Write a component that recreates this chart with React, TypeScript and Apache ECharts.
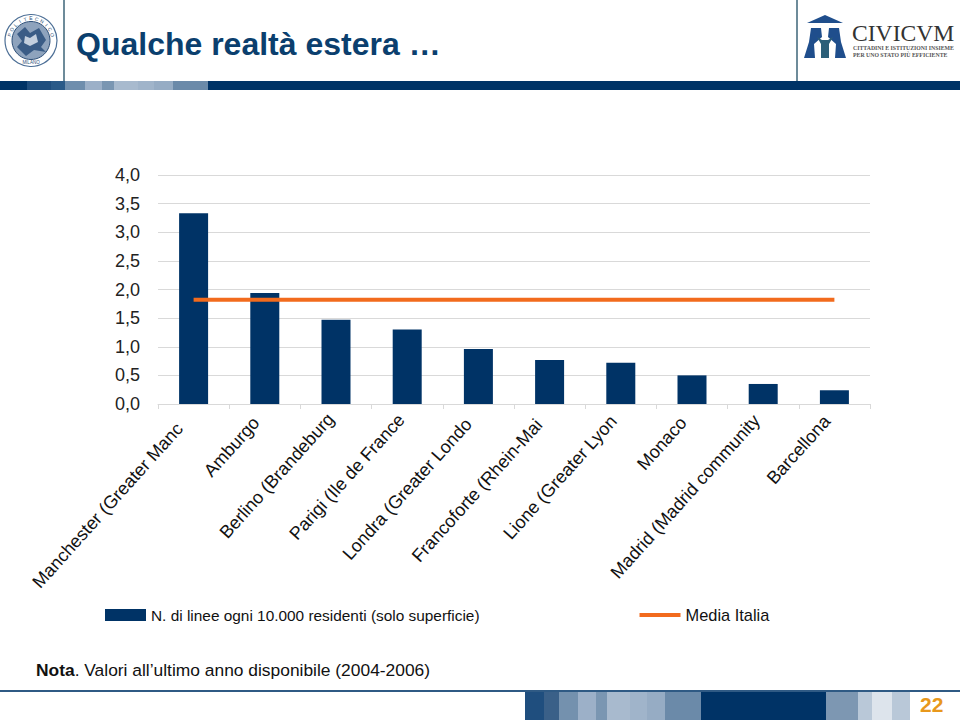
import React, { useEffect, useRef } from "react";
import * as echarts from "echarts";

const categories = [
  "Manchester (Greater Manc",
  "Amburgo",
  "Berlino (Brandeburg",
  "Parigi (Ile de France",
  "Londra (Greater Londo",
  "Francoforte (Rhein-Mai",
  "Lione (Greater Lyon",
  "Monaco",
  "Madrid (Madrid community",
  "Barcellona",
];
const lineePerResidenti = [3.33, 1.94, 1.47, 1.3, 0.96, 0.77, 0.72, 0.5, 0.35, 0.24];
const mediaItalia = [1.82, 1.82, 1.82, 1.82, 1.82, 1.82, 1.82, 1.82, 1.82, 1.82];
const labelEndPadding = [21, 13, 8, 9, 15, 16, 11, 13, 10, 11];
const labelLineHeight = [18, 1, 10, 10, 14, 11, 13, 3, 13, 6];
const seriesNames = ["N. di linee ogni 10.000 residenti (solo superficie)", "Media Italia"];
const topBand: [number, number, string][] = [
  [0, 27, "#003366"], [27, 51, "#1f4e7e"], [51, 65, "#2a5a88"], [65, 85, "#6f8ead"], [85, 102, "#9cb0c8"],
  [102, 114, "#7a96b2"], [114, 138, "#a8bace"], [138, 154, "#a0b4ca"], [154, 173, "#96acc4"], [173, 208, "#6b8aa9"], [208, 960, "#003366"],
];
const bottomBand: [number, number, string][] = [
  [525, 544, "#1f4e7e"], [544, 559, "#3a6088"], [559, 578, "#7491ae"], [578, 596, "#9cb0c8"], [596, 607, "#7a96b2"],
  [607, 630, "#a8bace"], [630, 647, "#a0b4ca"], [647, 665, "#96acc4"], [665, 701, "#6b8aa9"], [701, 826, "#003366"],
  [826, 858, "#7d97b2"], [858, 872, "#b9c8d8"], [872, 892, "#dde4ec"], [892, 910, "#b9c8d8"],
];
const FONT = '"Liberation Sans", Arial, sans-serif';
const SERIF = '"Liberation Serif", serif';

const band = (items: [number, number, string][], y: number, h: number) =>
  items.map(([a, b, c]) => ({ type: "rect", silent: true, shape: { x: a, y, width: b - a, height: h }, style: { fill: c } }));

const sealLetters = "POLITECNICO".split("").map((ch, i, all) => {
  const a = ((i - (all.length - 1) / 2) * 15 * Math.PI) / 180;
  return {
    type: "text", silent: true, x: 31 + 22.2 * Math.sin(a), y: 40.5 - 22.2 * Math.cos(a), rotation: -a,
    style: { text: ch, fontFamily: FONT, fontSize: 5, fill: "#2d4f78", align: "center", verticalAlign: "middle" },
  };
});

export default function App() {
  const ref = useRef<HTMLDivElement>(null);
  useEffect(() => {
    const chart = echarts.init(ref.current!, null, { renderer: "svg" });
    chart.setOption({
      animation: false,
      backgroundColor: "#ffffff",
      grid: { left: 158, right: 90, top: 175, bottom: 316 },
      legend: {
        left: 105, top: 607, padding: 0, itemGap: 158, itemWidth: 41, itemHeight: 12,
        textStyle: { fontFamily: FONT, fontSize: 16, color: "#111" },
        data: [
          { name: seriesNames[0], icon: "rect", textStyle: { fontSize: 15.4 } },
          { name: seriesNames[1], itemStyle: { color: "transparent", borderWidth: 0 }, lineStyle: { width: 4, color: "#F26B1D" }, textStyle: { fontSize: 16.4 } },
        ],
      },
      xAxis: {
        type: "category",
        data: categories.map((value, i) => ({ value, textStyle: { padding: [0, labelEndPadding[i], 0, 0], lineHeight: labelLineHeight[i] } })),
        axisLine: { lineStyle: { color: "#D9D9D9" } },
        axisTick: { show: true, length: 5, lineStyle: { color: "#D9D9D9" } },
        axisLabel: { interval: 0, rotate: 48, margin: 6, verticalAlign: "bottom", fontFamily: FONT, fontSize: 18, color: "#111" },
      },
      yAxis: {
        type: "value", min: 0, max: 4, interval: 0.5,
        axisLine: { show: false }, axisTick: { show: false },
        splitLine: { lineStyle: { color: "#D9D9D9" } },
        axisLabel: {
          margin: 18, fontFamily: FONT, fontSize: 18, color: "#222",
          formatter: (v: number) => v.toFixed(1).replace(".", ","),
        },
      },
      series: [
        { name: seriesNames[0], type: "bar", data: lineePerResidenti, barWidth: 29, itemStyle: { color: "#003366" } },
        { name: seriesNames[1], type: "line", data: mediaItalia, symbol: "none", lineStyle: { color: "#F26B1D", width: 4 }, itemStyle: { color: "#F26B1D" } },
      ],
      graphic: [
        ...band(topBand, 81, 9),
        ...band(bottomBand, 691, 29),
        { type: "rect", silent: true, shape: { x: 0, y: 690, width: 960, height: 2 }, style: { fill: "#2f5a84" } },
        { type: "line", silent: true, shape: { x1: 64, y1: 0, x2: 64, y2: 81 }, style: { stroke: "#3d6478", lineWidth: 1.5 } },
        { type: "line", silent: true, shape: { x1: 797, y1: 0, x2: 797, y2: 81 }, style: { stroke: "#3d6478", lineWidth: 1.5 } },
        { type: "text", silent: true, x: 76, y: 28, style: { text: "Qualche realtà estera …", fontFamily: FONT, fontWeight: "bold", fontSize: 32, fill: "#0b3f6e" } },
        { type: "text", silent: true, x: 36, y: 661, style: { rich: { b: { fontWeight: "bold", fontFamily: FONT, fontSize: 17.4, fill: "#111" }, n: { fontFamily: FONT, fontSize: 17.4, fill: "#111" } }, text: "{b|Nota}{n|. Valori all’ultimo anno disponibile (2004-2006)}" } },
        { type: "text", silent: true, x: 920, y: 694, style: { text: "22", fontFamily: FONT, fontWeight: "bold", fontSize: 21, fill: "#e8981c" } },
        // Politecnico seal
        { type: "circle", silent: true, shape: { cx: 31, cy: 40.5, r: 26 }, style: { fill: "#ffffff", stroke: "#4d6f96", lineWidth: 1.2 } },
        { type: "circle", silent: true, shape: { cx: 31, cy: 40.5, r: 19 }, style: { fill: "#8ea3bd", stroke: "#2d4f78", lineWidth: 1 } },
        { type: "polygon", silent: true, shape: { points: [[17, 34], [25, 27], [30, 33], [39, 28], [46, 40], [41, 47], [46, 52], [34, 50], [26, 56], [17, 47], [22, 41]] }, style: { fill: "#3a5c86" } },
        { type: "polygon", silent: true, shape: { points: [[25, 36], [30, 38], [36, 34], [38, 42], [30, 46], [24, 43]] }, style: { fill: "#c3cfde" } },
        { type: "text", silent: true, x: 31, y: 62, style: { text: "MILANO", fontFamily: FONT, fontSize: 4.5, fill: "#2d4f78", align: "center", verticalAlign: "middle" } },
        ...sealLetters,
        // Civicvm logo
        { type: "polygon", silent: true, shape: { points: [[807, 23], [825, 15], [843, 23]] }, style: { fill: "#1f4e8c" } },
        { type: "polygon", silent: true, shape: { points: [[811, 28], [821, 28], [822, 37], [814, 44], [815, 58], [804, 58], [809, 42]] }, style: { fill: "#1f4e8c" } },
        { type: "polygon", silent: true, shape: { points: [[829, 28], [839, 28], [841, 42], [846, 58], [835, 58], [836, 44], [828, 37]] }, style: { fill: "#1f4e8c" } },
        { type: "polygon", silent: true, shape: { points: [[817, 37], [822, 40], [828, 40], [833, 37], [829, 44], [829, 58], [821, 58], [821, 44]] }, style: { fill: "#2c5f78" } },
        { type: "text", silent: true, x: 852, y: 21, style: { text: "CIVICVM", fontFamily: SERIF, fontSize: 23.6, fill: "#333" } },
        { type: "text", silent: true, x: 853, y: 45, style: { text: "CITTADINI E ISTITUZIONI INSIEME", fontFamily: SERIF, fontWeight: "bold", fontSize: 5.8, fill: "#555" } },
        { type: "text", silent: true, x: 853, y: 52, style: { text: "PER UNO STATO PIÙ EFFICIENTE", fontFamily: SERIF, fontWeight: "bold", fontSize: 5.8, fill: "#555" } },
      ],
    });
    return () => chart.dispose();
  }, []);
  return <div ref={ref} style={{ position: "fixed", left: 0, top: 0, width: 960, height: 720 }} />;
}
